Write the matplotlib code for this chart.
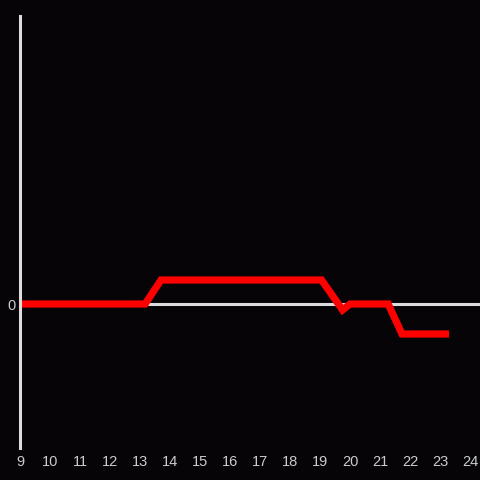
import matplotlib
matplotlib.use("Agg")
import matplotlib.pyplot as plt

BG = "#060407"
AXIS = "#dcdcdc"

hours = [9, 13.17, 13.7, 19.05, 19.75, 20.0, 21.27, 21.73, 23.3]
values = [0, 0, 4, 4, -1, 0, 0, -5, -5]
x_ticks = list(range(9, 25))

fig = plt.figure(figsize=(4.8, 4.8), dpi=100, facecolor=BG)
ax = fig.add_axes([20 / 480, 32 / 480, 460 / 480, 432 / 480], facecolor=BG)

ax.axhline(0, color=AXIS, lw=2.2, zorder=1)
ax.plot(hours, values, color="#ff0000", lw=5.2, solid_capstyle="butt",
        solid_joinstyle="miter", zorder=2)

ax.set_xlim(9, 24.33)
ax.set_ylim(-24, 48)
ax.set_xticks(x_ticks)
ax.set_xticklabels([str(t) for t in x_ticks])
ax.set_yticks([0])
ax.set_yticklabels(["0"])

for s in ["top", "right", "bottom"]:
    ax.spines[s].set_visible(False)
ax.spines["left"].set_color(AXIS)
ax.spines["left"].set_linewidth(2.2)

ax.tick_params(length=0, colors="#cccccc", labelsize=10.5)
for lab in ax.get_xticklabels() + ax.get_yticklabels():
    lab.set_family(["Liberation Sans", "DejaVu Sans"])
ax.tick_params(axis="x", pad=5)
ax.tick_params(axis="y", pad=3)

fig.savefig("out.png", dpi=100, facecolor=BG)
